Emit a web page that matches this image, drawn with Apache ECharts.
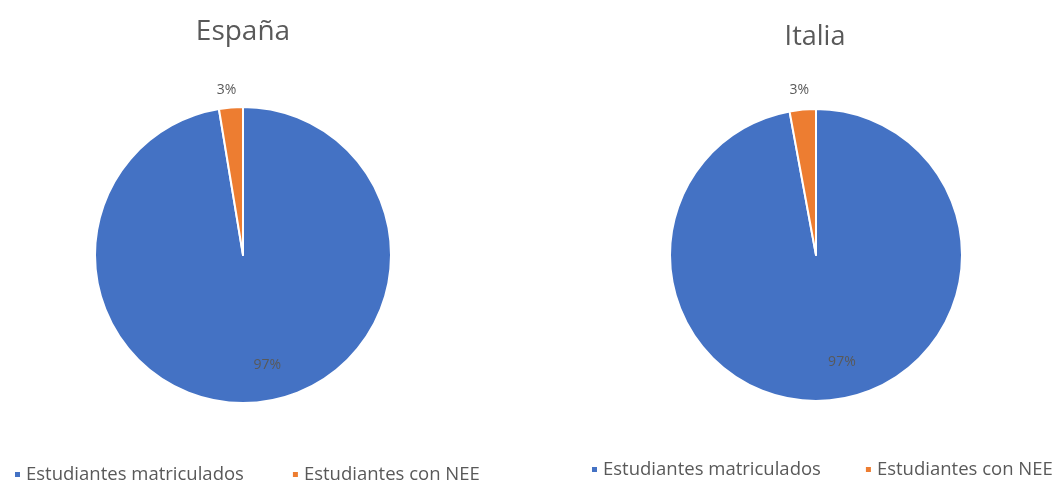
<!DOCTYPE html>
<html>
<head>
<meta charset="utf-8">
<script src="https://cdn.jsdelivr.net/npm/echarts@6/dist/echarts.min.js"></script>
<style>
html,body{margin:0;padding:0;background:#fff;}
#chart{width:1054px;height:481px;}
</style>
</head>
<body>
<div id="chart"></div>
<script>
const categories = ['Estudiantes matriculados', 'Estudiantes con NEE'];
const countries = ['España', 'Italia'];
const espanaValues = [97.4, 2.6];
const italiaValues = [97.1, 2.9];
const colors = ['#4472C4', '#ED7D31'];

const FONT = '"Open Sans", sans-serif';
const GRAY = '#595959';

function pieSeries(name, values, center, radius, inOffset, outOffset) {
  return {
    type: 'pie',
    name: name,
    center: center,
    radius: radius,
    startAngle: 90,
    clockwise: true,
    percentPrecision: 0,
    avoidLabelOverlap: false,
    itemStyle: { borderColor: '#ffffff', borderWidth: 2 },
    emphasis: { disabled: true },
    labelLine: { show: false, length: 6, length2: 0 },
    data: [
      { name: categories[0], value: values[0],
        itemStyle: { color: colors[0] },
        label: { position: 'inside', offset: inOffset } },
      { name: categories[1], value: values[1],
        itemStyle: { color: colors[1] },
        label: { position: 'outside', offset: outOffset } }
    ],
    label: {
      show: true,
      formatter: '{d}%',
      color: GRAY,
      fontFamily: FONT,
      fontSize: 14
    }
  };
}

const chart = echarts.init(document.getElementById('chart'), null, { renderer: 'canvas' });
chart.setOption({
  backgroundColor: '#ffffff',
  animation: false,
  title: [
    { text: countries[0], left: 238, top: 13, textAlign: 'center',
      textStyle: { color: GRAY, fontFamily: FONT, fontSize: 28, fontWeight: 'normal' } },
    { text: countries[1], left: 810, top: 19, textAlign: 'center',
      textStyle: { color: GRAY, fontFamily: FONT, fontSize: 27, fontWeight: 'normal' } }
  ],
  legend: [
    { data: categories, left: 13, top: 465, icon: 'rect', itemWidth: 7, itemHeight: 7, itemGap: 47,
      padding: 0,
      textStyle: { color: GRAY, fontFamily: FONT, fontSize: 18.5 } },
    { data: categories, left: 590, top: 460, icon: 'rect', itemWidth: 7, itemHeight: 7, itemGap: 43,
      padding: 0,
      textStyle: { color: GRAY, fontFamily: FONT, fontSize: 18.5 } }
  ],
  series: [
    pieSeries(countries[0], espanaValues, [243, 255], 148, [18, 33], [11, -11]),
    pieSeries(countries[1], italiaValues, [816, 255], 146, [19, 31], [12, -14])
  ]
});
</script>
</body>
</html>
